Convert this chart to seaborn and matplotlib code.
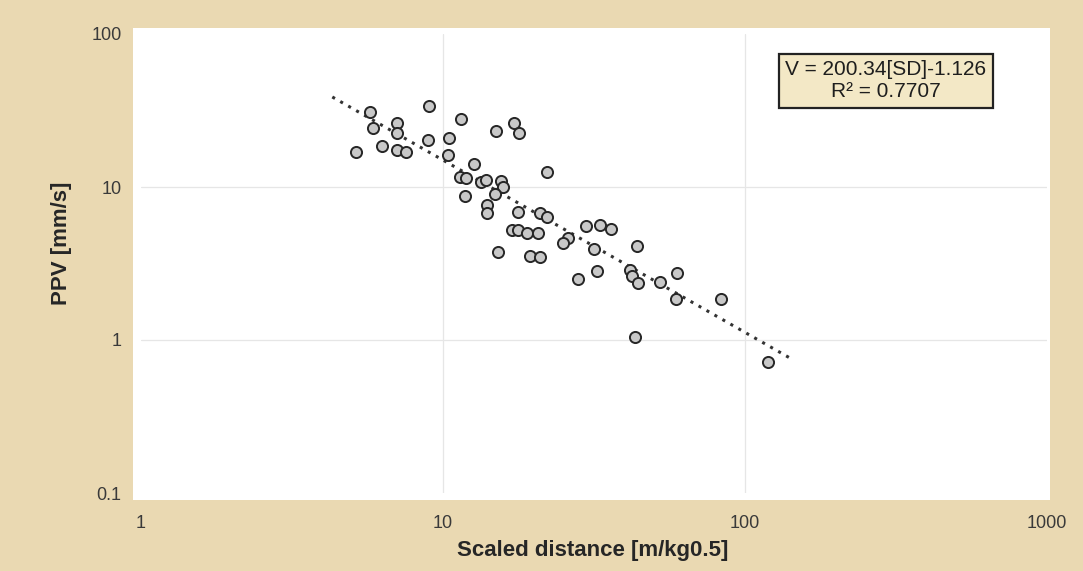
import numpy as np
import pandas as pd
import matplotlib
matplotlib.use("Agg")
import matplotlib.pyplot as plt
from matplotlib.patches import Rectangle
import seaborn as sns

# ---- data ----
scaled_distance = [5.15, 5.73, 5.86, 6.28, 7.05, 7.05, 7.05, 7.54, 8.99, 8.92,
                   10.5, 11.5, 10.4, 12.7, 11.4, 11.9, 13.4, 13.9, 15.6, 15.8,
                   14.9, 11.8, 14.0, 14.0, 15.0, 17.2, 17.9, 22.1, 17.7, 20.9,
                   22.1, 16.9, 17.7, 19.0, 20.6, 15.2, 19.4, 20.9, 29.8, 33.1,
                   36.0, 25.9, 25.0, 31.6, 43.9, 28.0, 32.4, 41.6, 42.3, 44.3,
                   52.3, 59.6, 59.2, 83.4, 43.3, 119.0]
ppv = [16.9, 30.9, 24.3, 18.5, 26.2, 22.5, 17.5, 16.9, 33.8, 20.3,
       20.9, 27.8, 16.2, 14.1, 11.6, 11.5, 10.8, 11.1, 10.9, 10.0,
       9.0, 8.7, 7.63, 6.76, 23.2, 26.2, 22.5, 12.5, 6.86, 6.76,
       6.37, 5.24, 5.24, 5.01, 5.01, 3.76, 3.54, 3.49, 5.56, 5.65,
       5.32, 4.64, 4.31, 3.93, 4.12, 2.50, 2.83, 2.87, 2.62, 2.36,
       2.39, 2.74, 1.85, 1.85, 1.05, 0.718]

trend_coef = 200.34
trend_exp = -1.126
trend_x_range = [4.3, 145.0]

x_ticks = [1, 10, 100, 1000]
x_tick_labels = ["1", "10", "100", "1000"]
y_ticks = [0.1, 1, 10, 100]
y_tick_labels = ["0.1", "1", "10", "100"]

x_label = "Scaled distance [m/kg0.5]"
y_label = "PPV [mm/s]"
equation_text = "V = 200.34[SD]-1.126\nR² = 0.7707"

# ---- figure ----
sns.set_theme(style="white")
plt.rcParams["font.family"] = ["Liberation Sans", "DejaVu Sans"]

W, H = 1083, 571
BG = "#EAD9B2"
fig = plt.figure(figsize=(W / 100, H / 100), dpi=100, facecolor=BG)

# white plotting panel (slightly larger than the data axes, as in the original)
panel = Rectangle((133 / W, 1 - 500 / H), (1050 - 133) / W, (500 - 28) / H,
                  transform=fig.transFigure, facecolor="white", edgecolor="none")
panel.set_zorder(-5)
fig.patches.append(panel)

ax = fig.add_axes([141 / W, 1 - 493 / H, 906 / W, 459 / H])
ax.set_zorder(1)
ax.set_facecolor("none")
ax.patch.set_alpha(0)

df = pd.DataFrame({"sd": scaled_distance, "ppv": ppv})
trend_x = np.array(trend_x_range)
trend_df = pd.DataFrame({"sd": trend_x, "ppv": trend_coef * trend_x ** trend_exp})

ax.set_xscale("log")
ax.set_yscale("log")

sns.lineplot(data=trend_df, x="sd", y="ppv", ax=ax, color="#333333",
             linestyle=(0, (1, 2)), linewidth=2.2, zorder=2)
sns.scatterplot(data=df, x="sd", y="ppv", ax=ax, s=64, marker="o",
                color="#C8C8C8", edgecolor="#262626", linewidth=1.4, zorder=3)

ax.set_xlim(1, 1000)
ax.set_ylim(0.1, 100)
ax.set_xticks(x_ticks)
ax.set_xticklabels(x_tick_labels)
ax.set_yticks(y_ticks)
ax.set_yticklabels(y_tick_labels)
ax.minorticks_off()
ax.tick_params(axis="both", length=0, labelsize=13, labelcolor="#3a3a3a")
ax.tick_params(axis="x", pad=16)
ax.tick_params(axis="y", pad=14)

ax.grid(True, which="major", color="#e6e6e6", linewidth=0.9)
for s in ax.spines.values():
    s.set_visible(False)
# only interior gridlines are visible in the original
for gl in (ax.xaxis.get_gridlines()[0], ax.xaxis.get_gridlines()[-1],
           ax.yaxis.get_gridlines()[0], ax.yaxis.get_gridlines()[-1]):
    gl.set_visible(False)

lab_font = dict(family=["Liberation Sans Narrow", "Liberation Sans", "DejaVu Sans"],
                fontweight="bold", fontsize=16, color="#262626")
ax.set_xlabel(x_label, **lab_font)
ax.set_ylabel(y_label, **lab_font)
ax.xaxis.set_label_coords((593 - 141) / 906, (493 - 540) / 459)
ax.yaxis.set_label_coords((72 - 141) / 906, (493 - 243) / 459)

ax.text(0.822, 0.898, equation_text, transform=ax.transAxes, ha="center", va="center",
        fontsize=15, color="#1e1e1e", linespacing=1.2,
        bbox=dict(boxstyle="square,pad=0.3", facecolor="#F3E8C6", edgecolor="#222222",
                  linewidth=1.6))

fig.savefig("out.png", dpi=100, facecolor=BG)
